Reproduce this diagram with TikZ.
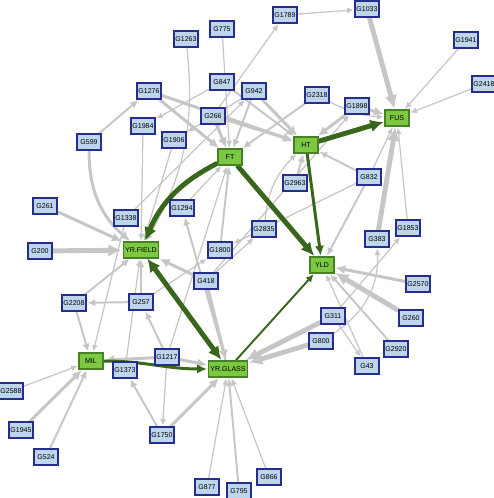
\documentclass[tikz,border=0pt]{standalone}
\usepackage{fontspec}
\setmainfont{Liberation Sans}
\usetikzlibrary{arrows.meta, backgrounds}

\definecolor{genefill}{RGB}{190,214,236}
\definecolor{geneline}{RGB}{40,44,140}
\definecolor{traitfill}{RGB}{124,200,64}
\definecolor{traitline}{RGB}{72,128,40}
\definecolor{linkgray}{RGB}{198,198,198}
\definecolor{traitlink}{RGB}{56,102,26}

\begin{document}
\begin{tikzpicture}[
        x = 0.02cm, y = -0.02cm,
        shorten >= 0.5pt,
        >= {Latex[length = 2.5pt 1.8, width = 2.2pt 1.8]},
        every node/.style = {font = \fontsize{4}{5}\selectfont},
        gene/.style = {draw = geneline, fill = genefill, line width = 0.6pt,
                       minimum width = 0.48cm, minimum height = 0.32cm, inner sep = 0.5pt},
        trait/.style = {draw = traitline, fill = traitfill, line width = 0.6pt,
                        minimum width = 0.48cm, minimum height = 0.32cm, inner sep = 1.2pt},
        lw1/.style = {line width = 0.7pt},
        lw2/.style = {line width = 1.1pt},
        lw3/.style = {line width = 1.7pt},
        lw4/.style = {line width = 2.8pt},
        every edge/.style = {draw = linkgray}
    ]

      \useasboundingbox (0,0) rectangle (494,498);

      % traits
      \node[trait] (ft) at (230,157) {FT};
      \node[trait] (ht) at (306,145) {HT};
      \node[trait] (fus) at (397,118) {FUS};
      \node[trait] (yrfield) at (141,250) {YR.FIELD};
      \node[trait] (yld) at (322,265) {YLD};
      \node[trait] (mil) at (91,361) {MIL};
      \node[trait] (yrglass) at (228,369) {YR.GLASS};

      % genes
      \node[gene] (g775) at (222,29) {G775};
      \node[gene] (g1263) at (186,39) {G1263};
      \node[gene] (g1789) at (285,15) {G1789};
      \node[gene] (g1033) at (367,9) {G1033};
      \node[gene] (g1941) at (466,40) {G1941};
      \node[gene] (g2418) at (484,84) {G2418};
      \node[gene] (g847) at (222,82) {G847};
      \node[gene] (g942) at (254,91) {G942};
      \node[gene] (g2318) at (317,95) {G2318};
      \node[gene] (g1898) at (357,106) {G1898};
      \node[gene] (g1276) at (149,91) {G1276};
      \node[gene] (g266) at (213,116) {G266};
      \node[gene] (g1984) at (143,126) {G1984};
      \node[gene] (g1906) at (174,140) {G1906};
      \node[gene] (g599) at (89,142) {G599};
      \node[gene] (g2963) at (295,183) {G2963};
      \node[gene] (g832) at (369,177) {G832};
      \node[gene] (g2835) at (264,229) {G2835};
      \node[gene] (g383) at (377,239) {G383};
      \node[gene] (g1853) at (408,228) {G1853};
      \node[gene] (g2570) at (418,284) {G2570};
      \node[gene] (g260) at (411,318) {G260};
      \node[gene] (g311) at (333,316) {G311};
      \node[gene] (g800) at (321,341) {G800};
      \node[gene] (g2920) at (396,349) {G2920};
      \node[gene] (g43) at (367,366) {G43};
      \node[gene] (g866) at (269,477) {G866};
      \node[gene] (g795) at (239,491) {G795};
      \node[gene] (g877) at (207,487) {G877};
      \node[gene] (g1750) at (162,435) {G1750};
      \node[gene] (g261) at (45,206) {G261};
      \node[gene] (g1338) at (126,218) {G1338};
      \node[gene] (g1294) at (182,208) {G1294};
      \node[gene] (g200) at (40,251) {G200};
      \node[gene] (g1800) at (220,250) {G1800};
      \node[gene] (g418) at (206,281) {G418};
      \node[gene] (g2208) at (74,303) {G2208};
      \node[gene] (g257) at (141,302) {G257};
      \node[gene] (g1217) at (167,357) {G1217};
      \node[gene] (g1373) at (125,370) {G1373};
      \node[gene] (g2588) at (11,391) {G2588};
      \node[gene] (g1945) at (21,430) {G1945};
      \node[gene] (g524) at (46,457) {G524};

      \begin{pgfonlayer}{background}
      % gene links
      \path[->]
            (g775) edge [lw1] (ft)
            (g1263) edge [lw1, bend left = 18] (yrfield)
            (g1789) edge [lw1] (g1033)
            (g266) edge [lw1] (g1789)
            (g1033) edge [lw4] (fus)
            (g1941) edge [lw1] (fus)
            (g2418) edge [lw1] (fus)
            (g847) edge [lw1] (g1984)
            (g942) edge [lw1] (g1906)
            (g1338) edge [lw1] (g942)
            (g1276) edge [lw3] (ft)
            (g1276) edge [lw3] (ht)
            (g266) edge [lw3] (ft)
            (g266) edge [lw2] (ht)
            (g942) edge [lw3] (ht)
            (g847) edge [lw2] (ht)
            (g942) edge [lw2] (ft)
            (g2318) edge [lw2] (ft)
            (g2318) edge [lw1, bend right = 12] (fus)
            (g1898) edge [lw3] (fus)
            (g1898) edge [lw3] (ht)
            (g832) edge [lw2] (ht)
            (g2963) edge [lw2] (ht)
            (g2835) edge [lw1, bend left = 20] (ht)
            (g599) edge [lw2] (g1276)
            (g599) edge [lw3, bend right = 25] (yrfield)
            (g1984) edge [lw1] (yrfield)
            (g1906) edge [lw1] (yrfield)
            (g261) edge [lw3] (yrfield)
            (g200) edge [lw4] (yrfield)
            (g1338) edge [lw1] (mil)
            (g1800) edge [lw2] (ft)
            (g1294) edge [lw1] (ft)
            (g832) edge [lw1] (g1800)
            (g418) edge [lw1] (g2835)
            (g418) edge [lw1] (g1898)
            (g257) edge [lw1] (g1800)
            (g418) edge [lw3] (yrfield)
            (g418) edge [lw3] (yrglass)
            (yrglass) edge [lw2] (g1294)
            (g2208) edge [lw2] (yrfield)
            (g2208) edge [lw2] (mil)
            (g257) edge [lw2] (g2208)
            (g257) edge [lw2] (yrfield)
            (g1373) edge [lw1] (yrfield)
            (g1217) edge [lw2] (g257)
            (g1217) edge [lw3] (mil)
            (g1217) edge [lw3] (yrglass)
            (g1217) edge [lw1] (g1750)
            (g1217) edge [lw1] (ft)
            (g1750) edge [lw2] (g1373)
            (g1750) edge [lw3] (yrglass)
            (g877) edge [lw1] (yrglass)
            (g795) edge [lw2] (yrglass)
            (g866) edge [lw1] (yrglass)
            (g311) edge [lw4] (yrglass)
            (g800) edge [lw4] (yrglass)
            (g311) edge [lw1] (g43)
            (g800) edge [lw1, bend right = 30] (g383)
            (g311) edge [lw1] (g1853)
            (g832) edge [lw2] (yld)
            (g2570) edge [lw3] (yld)
            (g260) edge [lw4] (yld)
            (g2920) edge [lw2] (yld)
            (g43) edge [lw1] (yld)
            (g383) edge [lw4] (fus)
            (g1853) edge [lw1] (fus)
            (g832) edge [lw1] (fus)
            (g2588) edge [lw1] (mil)
            (g1945) edge [lw3] (mil)
            (g524) edge [lw2] (mil);

      % trait links
      \path[->, every edge/.style = {draw = traitlink}]
            (ft) edge [lw4, bend right = 20] (yrfield)
            (ft) edge [lw4] (yld)
            (ht) edge [lw4] (fus)
            (ht) edge [lw3] (yld)
            (yrfield) edge [lw4, <->] (yrglass)
            (yrglass) edge [lw2] (yld)
            (mil) edge [lw3, out = 0, in = 180] (yrglass);
      \end{pgfonlayer}

    \end{tikzpicture}
\end{document}
